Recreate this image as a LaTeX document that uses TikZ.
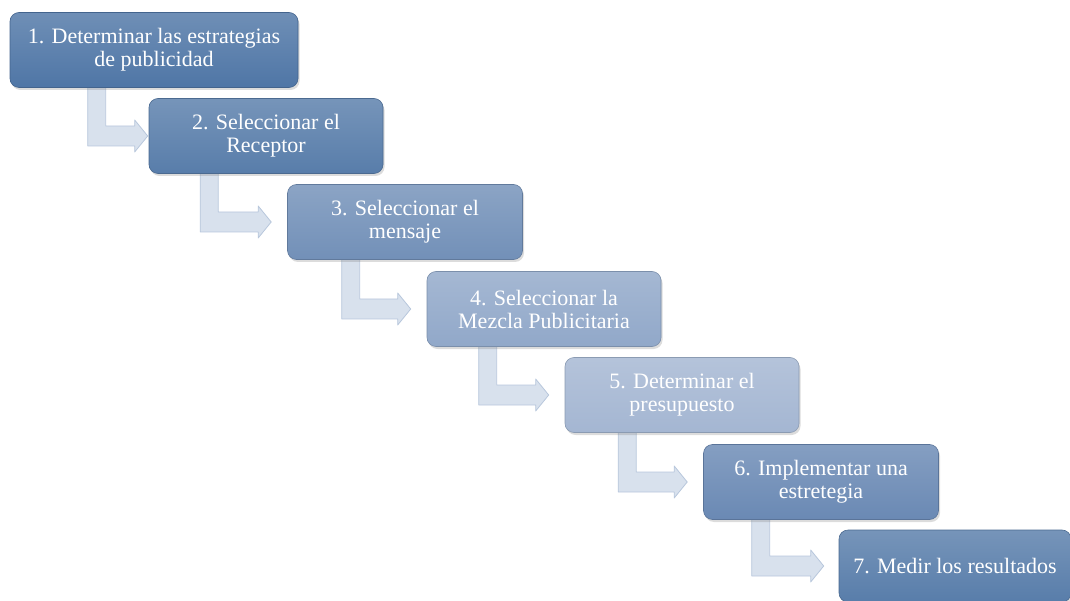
\documentclass[tikz,border=0pt]{standalone}
\usepackage{fontspec}
\setmainfont{Liberation Serif}
\usetikzlibrary{calc,shadows}

% step box colours, darkest to lightest
\definecolor{boxA}{RGB}{79,118,166}
\definecolor{boxB}{RGB}{88,125,170}
\definecolor{boxC}{RGB}{114,144,184}
\definecolor{boxD}{RGB}{145,168,201}
\definecolor{boxE}{RGB}{164,182,210}
\definecolor{boxF}{RGB}{106,137,180}
\definecolor{arrowfill}{RGB}{216,225,237}
\definecolor{arrowline}{RGB}{184,199,220}

\pgfdeclarelayer{arrows}
\pgfsetlayers{arrows,main}

\tikzset{
  stepbox/.style={
    rounded corners=9pt, draw=#1!85!black, line width=0.6pt,
    top color=#1!82!white, bottom color=#1,
    drop shadow={shadow xshift=1.5pt, shadow yshift=-2.5pt, opacity=0.28},
    text=white, align=center, inner sep=4pt,
    minimum height=75pt,
    font=\fontsize{22}{23}\selectfont},
  elbow/.style={fill=arrowfill, draw=arrowline, line width=0.8pt, line join=round}
}

% L-shaped block arrow from under #1 to the west side of #2;
% #3 = distance of the shaft's left edge from #2.west, #4 = gap before #2
\newcommand\elbowarrow[4]{%
  \path[elbow] let \p1=(#1.south), \p2=(#2.west),
        \n1={\x2-#3}, \n2={\x2-#4} in
    ({\n1},{\y1+6pt}) -- ({\n1+18pt},{\y1+6pt}) -- ({\n1+18pt},{\y2+10pt})
    -- ({\n2-13pt},{\y2+10pt}) -- ({\n2-13pt},{\y2+16pt}) -- ({\n2},{\y2})
    -- ({\n2-13pt},{\y2-16pt}) -- ({\n2-13pt},{\y2-10pt}) -- ({\n1},{\y2-10pt}) -- cycle;}

\begin{document}
\begin{tikzpicture}[x=1pt,y=-1pt]
\useasboundingbox (0,0) rectangle (1070,601);

% step boxes, each placed by its centre
\node[stepbox=boxA, minimum width=288pt] (s1) at (154,50)
  {1. Determinar las estrategias\\de publicidad};
\node[stepbox=boxB, minimum width=234pt] (s2) at (266,136)
  {2. Seleccionar el\\Receptor};
\node[stepbox=boxC, minimum width=235pt] (s3) at (405,222)
  {3. Seleccionar el\\mensaje};
\node[stepbox=boxD, minimum width=234pt] (s4) at (544,309)
  {4. Seleccionar la\\Mezcla Publicitaria};
\node[stepbox=boxE, minimum width=234pt] (s5) at (682,395)
  {5. Determinar el\\presupuesto};
\node[stepbox=boxF, minimum width=235pt] (s6) at (821,482)
  {6. Implementar una\\estretegia};
\node[stepbox=boxB, minimum width=232pt, minimum height=72pt] (s7) at (955,566)
  {7. Medir los resultados};

% connectors, drawn on a layer behind the boxes
\begin{pgfonlayer}{arrows}
  \elbowarrow{s1}{s2}{61pt}{1pt}
  \elbowarrow{s2}{s3}{87pt}{16pt}
  \elbowarrow{s3}{s4}{85pt}{16pt}
  \elbowarrow{s4}{s5}{86pt}{16pt}
  \elbowarrow{s5}{s6}{85pt}{16pt}
  \elbowarrow{s6}{s7}{87pt}{15pt}
\end{pgfonlayer}
\end{tikzpicture}
\end{document}
